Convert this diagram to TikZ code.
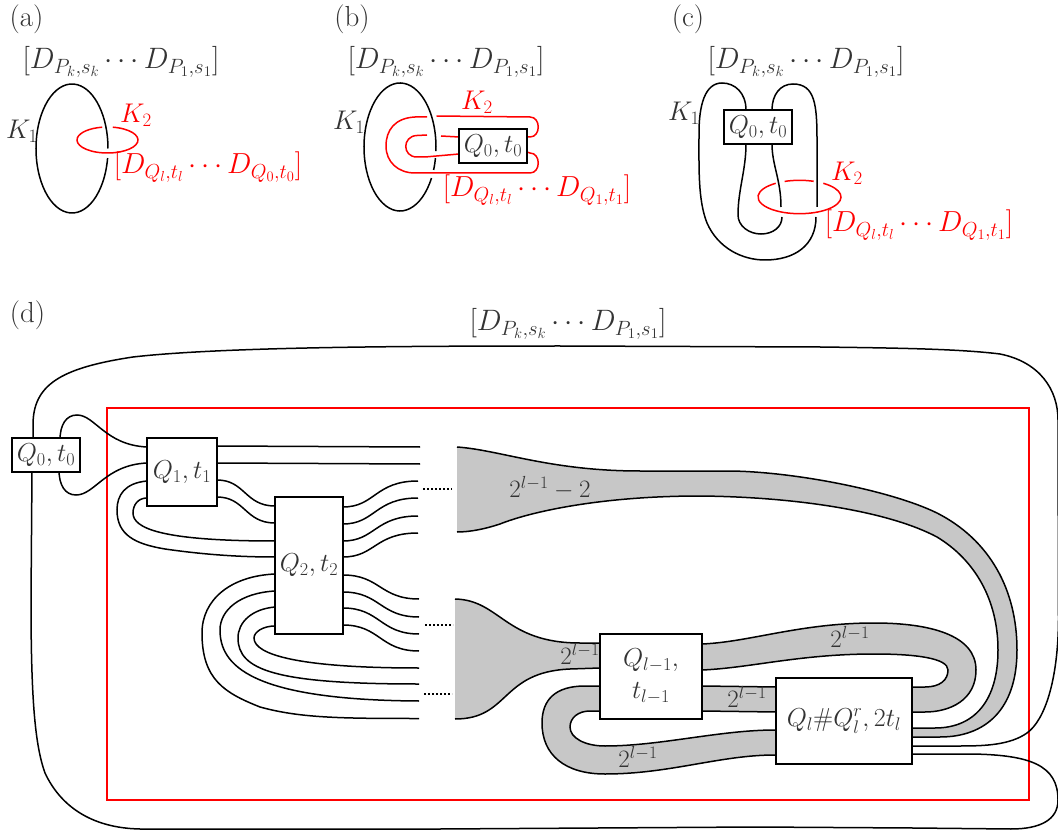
\documentclass[tikz,border=0pt]{standalone}
\usepackage{fix-cm}
\usepackage{amssymb}
\usepackage{amsmath}
\usepackage{xcolor}
\definecolor{bandgray}{gray}{0.78}
\tikzset{
  strand/.style={line width=1.5pt,black},
  redstrand/.style={line width=1.5pt,red},
  knotbox/.style={draw,fill=white,line width=1.5pt,inner sep=0pt,align=center,text=black!80,font=\fontsize{26}{30}\selectfont},
  lbl/.style={inner sep=0pt,text=black!80,font=\fontsize{29.5}{33}\selectfont},
  redlbl/.style={inner sep=0pt,text=red,font=\fontsize{29}{33}\selectfont},
  klbl/.style={inner sep=0pt,text=black!80,font=\fontsize{27}{31}\selectfont},
  widthlbl/.style={inner sep=0pt,text=black!80,font=\fontsize{25}{29}\selectfont},
  panel/.style={inner sep=0pt,text=black!80,font=\fontsize{29}{33}\selectfont},
  dots/.style={line width=2pt,dash pattern=on 2pt off 2pt}
}
\newcommand{\band}[2]{%
  \fill[bandgray] #1 -- #2 -- cycle;
  \draw[strand] #1;
  \draw[strand] #2;
}
\begin{document}
\begin{tikzpicture}[x=1pt,y=-1pt]
  \useasboundingbox (0,0) rectangle (1058,834);
  % panel a
  \node[panel] (a) at (26.5,19) {(a)};
  \node[lbl] (Pa) at (121,62) {$[D_{P_k,s_k}\cdots D_{P_1,s_1}]$};
  \node[klbl] (K1a) at (22,131) {$K_1$};
  \node[klbl,text=red] (K2a) at (136,115) {$K_2$};
  \node[redlbl] (Qa) at (208,167) {$[D_{Q_l,t_l}\cdots D_{Q_0,t_0}]$};
  \draw[strand] (72,148.5) ++(8.5:36 and 64.5) arc[start angle=8.5,end angle=360,x radius=36,y radius=64.5];
  \draw[redstrand] (107.5,140) ++(-80:30.5 and 13) arc[start angle=-80,end angle=260,x radius=30.5,y radius=13];

  % panel b
  \node[panel] (b) at (352,19) {(b)};
  \node[lbl] (Pb) at (446,62) {$[D_{P_k,s_k}\cdots D_{P_1,s_1}]$};
  \node[klbl] (K1b) at (349,122) {$K_1$};
  \node[klbl,text=red] (K2b) at (477,102) {$K_2$};
  \node[redlbl] (Qb) at (537,190) {$[D_{Q_l,t_l}\cdots D_{Q_1,t_1}]$};
  \draw[strand] (400,147) ++(29:36 and 64) arc[start angle=29,end angle=363.6,x radius=36,y radius=64];
  \draw[strand] (400,147) ++(9.9:36 and 64) arc[start angle=9.9,end angle=21,x radius=36,y radius=64];
  \draw[redstrand] (427,117) -- (415,117) .. controls (395,118) and (386,130) .. (386,146) .. controls (386,162) and (398,173) .. (415,173) -- (530,173) .. controls (541,173) and (541,153) .. (530,153) -- (527,152);
  \draw[redstrand] (436.5,116) -- (530,117) .. controls (541,117) and (541,137) .. (530,137) -- (527,137);
  \draw[redstrand] (427,135) -- (417,135.5) .. controls (402,136) and (402,157) .. (417,157) -- (425,157) -- (459,154);
  \draw[redstrand] (441,136) -- (459,137);
  \node[knotbox,minimum width=68pt,minimum height=34pt] (Q0b) at (493,146) {$Q_0,t_0$};

  % panel c
  \node[panel] (c) at (688,19) {(c)};
  \node[lbl] (Pc) at (806,62) {$[D_{P_k,s_k}\cdots D_{P_1,s_1}]$};
  \node[klbl] (K1c) at (684,113) {$K_1$};
  \node[klbl,text=red] (K2c) at (847,173) {$K_2$};
  \node[redlbl] (Qc) at (919,225) {$[D_{Q_l,t_l}\cdots D_{Q_1,t_1}]$};
  \draw[strand] (746,110) .. controls (746,93) and (735,83) .. (722,83) .. controls (705,83) and (699,105) .. (699,133) .. controls (699,170) and (698,200) .. (707,223) .. controls (718,248) and (742,260) .. (765,260) .. controls (795,260) and (816,245) .. (816,217);
  \draw[strand] (817,207) -- (817,140) .. controls (817,105) and (815,84) .. (793,84) .. controls (780,84) and (772,95) .. (772,110);
  \draw[strand] (746,144) .. controls (746,170) and (738,190) .. (738,215) .. controls (738,226) and (749,234) .. (761,234) .. controls (773,234) and (782,227) .. (782,217);
  \draw[strand] (781,207) .. controls (781,180) and (772,165) .. (772,144);
  \draw[redstrand] (799.5,197) ++(-55:41.5 and 16.7) arc[start angle=-55,end angle=235,x radius=41.5,y radius=16.7];
  \draw[redstrand] (799.5,197) ++(-111:41.5 and 16.7) arc[start angle=-111,end angle=-70,x radius=41.5,y radius=16.7];
  \node[knotbox,minimum width=68pt,minimum height=34pt] (Q0c) at (758,127) {$Q_0,t_0$};

  % panel d
  \node[panel] (d) at (27.5,315) {(d)};
  \node[lbl] (Pd) at (568,324) {$[D_{P_k,s_k}\cdots D_{P_1,s_1}]$};
  \draw[redstrand] (107,408) rectangle (1029,800);

  % grey bands
  \band{(457,447) .. controls (500,450) and (550,471) .. (640,471) -- (727,471) .. controls (790,471) and (890,490) .. (937,513) .. controls (990,540) and (1017,590) .. (1017,650) .. controls (1017,710) and (985,737) .. (940,737) -- (913,737)}
       {(913,728) -- (935,728) .. controls (975,728) and (998,700) .. (998,650) .. controls (998,600) and (975,560) .. (937,537) .. controls (890,512) and (800,497) .. (700,496) .. controls (600,496) and (530,512) .. (500,524) .. controls (485,529) and (470,532) .. (457,532)}
  \band{(455,599) .. controls (500,600) and (505,643) .. (580,643) -- (600,643)}
       {(600,668) -- (570,669) .. controls (500,672) and (510,719) .. (455,719)}
  \band{(702,644) .. controls (750,642) and (800,623) .. (874,623) .. controls (930,623) and (976,635) .. (976,670) .. controls (976,700) and (950,712) .. (925,712) -- (913,712)}
       {(913,687) -- (925,687) .. controls (940,687) and (948,680) .. (948,670) .. controls (948,658) and (915,654) .. (874,654) .. controls (800,654) and (750,668) .. (702,670)}
  \band{(702,686) -- (776,687)}
       {(776,712) -- (702,711)}
  \band{(600,686) -- (585,686) .. controls (555,686) and (542,700) .. (542,723) .. controls (542,755) and (565,774) .. (605,774) .. controls (670,774) and (720,755) .. (775,755)}
       {(775,730) .. controls (720,730) and (660,746) .. (605,746) .. controls (585,746) and (570,738) .. (570,727) .. controls (570,718) and (578,711) .. (590,711) -- (600,711)}

  % outer loop
  \draw[strand] (33,440) -- (33,425) .. controls (33,385) and (60,368) .. (133,357) .. controls (220,347) and (400,346) .. (560,346) -- (820,347) .. controls (900,348) and (960,349) .. (1000,354) .. controls (1040,362) and (1058,390) .. (1058,420) -- (1058.5,620) .. controls (1058,680) and (1045,720) .. (1027,733) .. controls (1010,745) and (985,746) .. (960,746) -- (913,746);
  \draw[strand] (913,754) -- (972,754) .. controls (1030,755) and (1058,765) .. (1058,800) .. controls (1058,820) and (1040,829) .. (1011,829) -- (913,828) -- (755,827) -- (440,829) -- (140,829) .. controls (90,828) and (60,805) .. (45,773) .. controls (35,745) and (31,700) .. (31,600) -- (32,470);
  \draw[strand] (60,440) .. controls (60,425) and (66,415) .. (77,415) .. controls (95,415) and (105,445) .. (147,447);
  \draw[strand] (59,470) .. controls (59,485) and (65,495) .. (76,495) .. controls (95,495) and (105,465) .. (147,463);

  % strands out of Q1
  \draw[strand] (217,446) -- (420,447);
  \draw[strand] (217,463) -- (420,464);
  \foreach \dy in {0,17}
    \draw[strand] (217,480+\dy) .. controls (245,480+\dy) and (245,506+\dy) .. (275,506+\dy);
  \draw[strand] (147,481) .. controls (125,483) and (117,495) .. (117,510) .. controls (117,535) and (135,544) .. (165,549) .. controls (200,554) and (235,557) .. (275,557);
  \draw[strand] (147,498) .. controls (138,498) and (133,505) .. (133,513) .. controls (133,528) and (160,541) .. (275,541);

  % strands out of Q2
  \foreach \ya/\yb in {507/481,524/498,541/516,557/533}
    \draw[strand] (343,\ya) .. controls (375,\ya) and (375,\yb) .. (418,\yb);
  \foreach \ya/\yb in {575/599,592/617,608/634,625/651}
    \draw[strand] (343,\ya) .. controls (380,\ya) and (380,\yb) .. (419,\yb);
  \draw[strand] (275,574) .. controls (230,576) and (202,600) .. (202,633) .. controls (202,680) and (225,693) .. (260,707) .. controls (300,718) and (340,718.5) .. (419,718.5);
  \draw[strand] (275,591) .. controls (240,593) and (220,610) .. (220,630) .. controls (220,665) and (250,700) .. (419,701);
  \draw[strand] (275,607) .. controls (252,609) and (238,622) .. (238,638) .. controls (238,670) and (275,684) .. (419,684);
  \draw[strand] (275,626) .. controls (263,626) and (254,632) .. (254,638) .. controls (254,655) and (300,668) .. (419,668);

  % dots
  \draw[dots] (423,489) -- (452,489);
  \draw[dots] (425,625) -- (453,625);
  \draw[dots] (424,694) -- (452,694);

  % boxes
  \node[knotbox,minimum width=68pt,minimum height=34pt] (Q0) at (46,455) {$Q_0,t_0$};
  \node[knotbox,minimum width=70pt,minimum height=68pt] (Q1) at (182,472) {$Q_1,t_1$};
  \node[knotbox,minimum width=68pt,minimum height=137pt] (Q2) at (309,565.5) {$Q_2,t_2$};
  \node[knotbox,minimum width=102pt,minimum height=85pt] (Qlm) at (651,676.5) {$Q_{l-1},$\\[2pt]$t_{l-1}$};
  \node[knotbox,minimum width=136pt,minimum height=86pt] (Ql) at (844,721) {$Q_l\#Q_l^r,2t_l$};

  % band labels
  \node[widthlbl] (w0) at (550,488) {$2^{l-1}-2$};
  \node[widthlbl] (w1) at (580,654) {$2^{l-1}$};
  \node[widthlbl] (w2) at (850,637) {$2^{l-1}$};
  \node[widthlbl] (w3) at (747,697) {$2^{l-1}$};
  \node[widthlbl] (w4) at (638,757) {$2^{l-1}$};
\end{tikzpicture}
\end{document}
